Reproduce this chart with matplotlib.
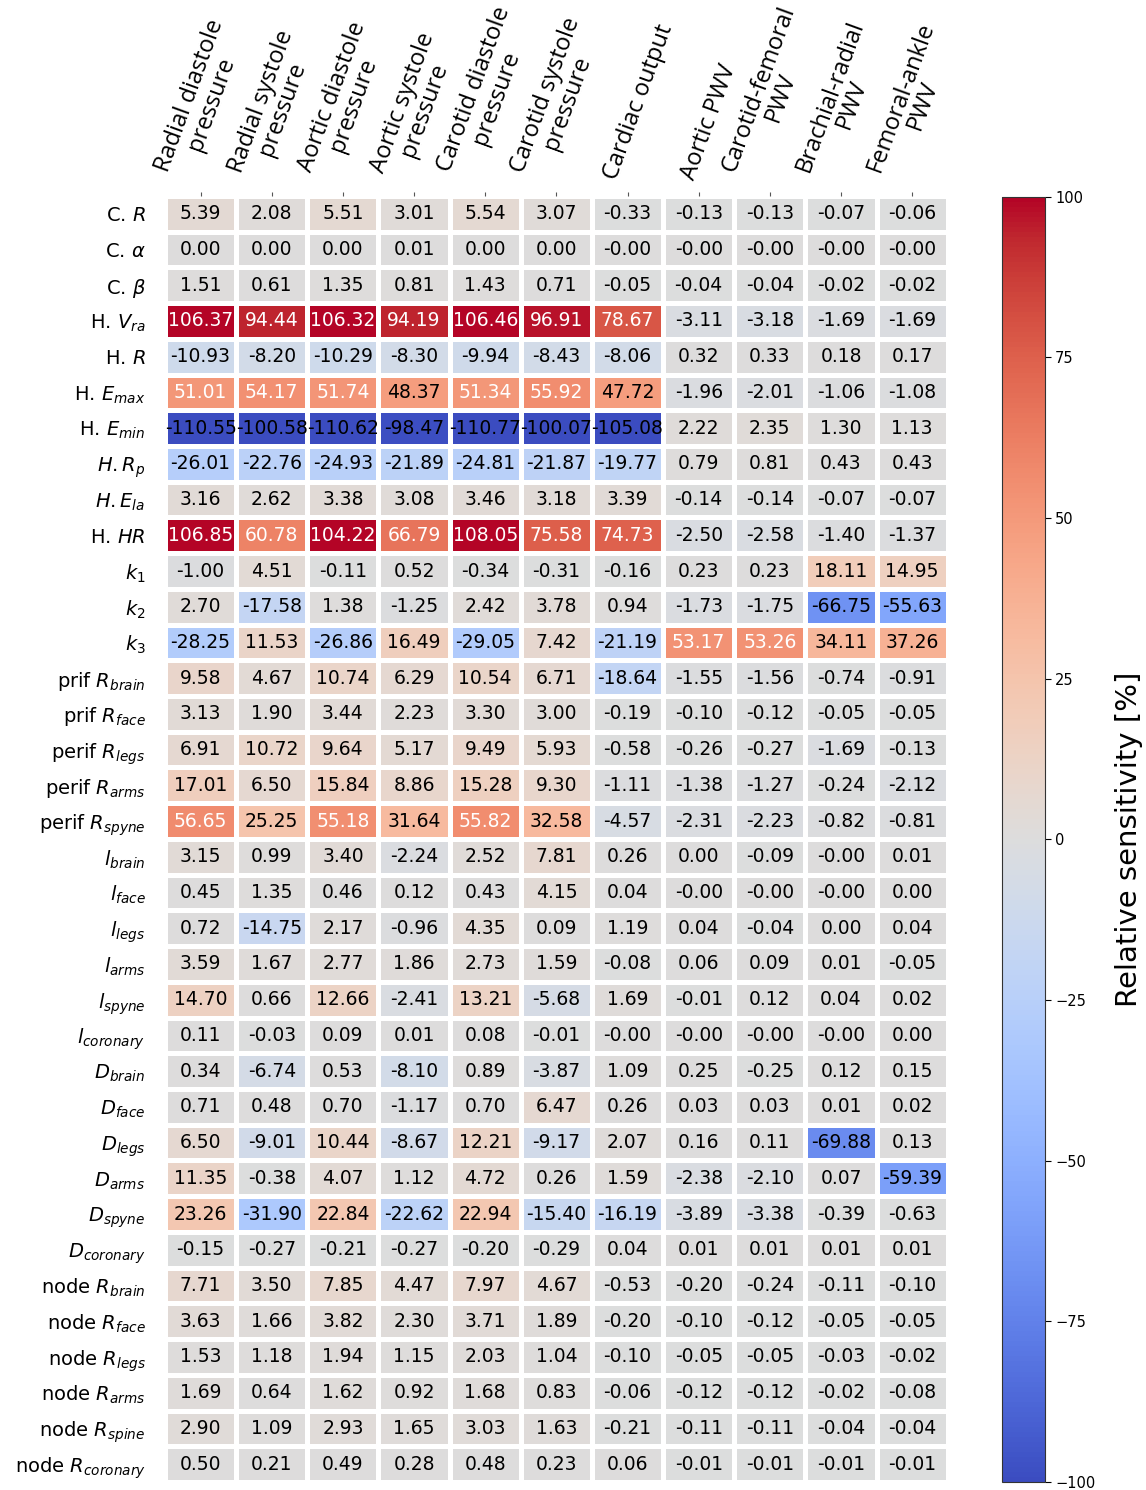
import numpy as np
import matplotlib
matplotlib.use("Agg")
import matplotlib.pyplot as plt

# Output quantities (columns)
outputs = [
    "Radial diastole\npressure", "Radial systole\npressure",
    "Aortic diastole\npressure", "Aortic systole\npressure",
    "Carotid diastole\npressure", "Carotid systole\npressure",
    "\nCardiac output", "\nAortic PWV", "Carotid-femoral\nPWV",
    "Brachial-radial\nPWV", "Femoral-ankle\nPWV",
]

# Model parameters (rows)
params = [
    r"C. $R$", r"C. $\alpha$", r"C. $\beta$", r"H. $V_{ra}$", r"H. $R$",
    r"H. $E_{max}$", r"H. $E_{min}$", r"$H. R_p$", r"$H. E_{la}$", r"H. $HR$",
    r"$k_1$", r"$k_2$", r"$k_3$",
    r"prif $R_{brain}$", r"prif $R_{face}$", r"perif $R_{legs}$",
    r"perif $R_{arms}$", r"perif $R_{spyne}$",
    r"$l_{brain}$", r"$l_{face}$", r"$l_{legs}$", r"$l_{arms}$",
    r"$l_{spyne}$", r"$l_{coronary}$",
    r"$D_{brain}$", r"$D_{face}$", r"$D_{legs}$", r"$D_{arms}$",
    r"$D_{spyne}$", r"$D_{coronary}$",
    r"node $R_{brain}$", r"node $R_{face}$", r"node $R_{legs}$",
    r"node $R_{arms}$", r"node $R_{spine}$", r"node $R_{coronary}$",
]

# Relative sensitivity [%], one list per parameter
c_R        = [5.39, 2.08, 5.51, 3.01, 5.54, 3.07, -0.33, -0.13, -0.13, -0.07, -0.06]
c_alpha    = [0.00, 0.00, 0.00, 0.01, 0.00, 0.00, -0.0, -0.0, -0.0, -0.0, -0.0]
c_beta     = [1.51, 0.61, 1.35, 0.81, 1.43, 0.71, -0.05, -0.04, -0.04, -0.02, -0.02]
h_Vra      = [106.37, 94.44, 106.32, 94.19, 106.46, 96.91, 78.67, -3.11, -3.18, -1.69, -1.69]
h_R        = [-10.93, -8.20, -10.29, -8.30, -9.94, -8.43, -8.06, 0.32, 0.33, 0.18, 0.17]
h_Emax     = [51.01, 54.17, 51.74, 48.37, 51.34, 55.92, 47.72, -1.96, -2.01, -1.06, -1.08]
h_Emin     = [-110.55, -100.58, -110.62, -98.47, -110.77, -100.07, -105.08, 2.22, 2.35, 1.30, 1.13]
h_Rp       = [-26.01, -22.76, -24.93, -21.89, -24.81, -21.87, -19.77, 0.79, 0.81, 0.43, 0.43]
h_Ela      = [3.16, 2.62, 3.38, 3.08, 3.46, 3.18, 3.39, -0.14, -0.14, -0.07, -0.07]
h_HR       = [106.85, 60.78, 104.22, 66.79, 108.05, 75.58, 74.73, -2.50, -2.58, -1.40, -1.37]
k1         = [-1.00, 4.51, -0.11, 0.52, -0.34, -0.31, -0.16, 0.23, 0.23, 18.11, 14.95]
k2         = [2.70, -17.58, 1.38, -1.25, 2.42, 3.78, 0.94, -1.73, -1.75, -66.75, -55.63]
k3         = [-28.25, 11.53, -26.86, 16.49, -29.05, 7.42, -21.19, 53.17, 53.26, 34.11, 37.26]
perif_brain = [9.58, 4.67, 10.74, 6.29, 10.54, 6.71, -18.64, -1.55, -1.56, -0.74, -0.91]
perif_face  = [3.13, 1.90, 3.44, 2.23, 3.30, 3.00, -0.19, -0.10, -0.12, -0.05, -0.05]
perif_legs  = [6.91, 10.72, 9.64, 5.17, 9.49, 5.93, -0.58, -0.26, -0.27, -1.69, -0.13]
perif_arms  = [17.01, 6.50, 15.84, 8.86, 15.28, 9.30, -1.11, -1.38, -1.27, -0.24, -2.12]
perif_spyne = [56.65, 25.25, 55.18, 31.64, 55.82, 32.58, -4.57, -2.31, -2.23, -0.82, -0.81]
l_brain    = [3.15, 0.99, 3.40, -2.24, 2.52, 7.81, 0.26, 0.00, -0.09, -0.0, 0.01]
l_face     = [0.45, 1.35, 0.46, 0.12, 0.43, 4.15, 0.04, -0.0, -0.0, -0.0, 0.00]
l_legs     = [0.72, -14.75, 2.17, -0.96, 4.35, 0.09, 1.19, 0.04, -0.04, 0.00, 0.04]
l_arms     = [3.59, 1.67, 2.77, 1.86, 2.73, 1.59, -0.08, 0.06, 0.09, 0.01, -0.05]
l_spyne    = [14.70, 0.66, 12.66, -2.41, 13.21, -5.68, 1.69, -0.01, 0.12, 0.04, 0.02]
l_coronary = [0.11, -0.03, 0.09, 0.01, 0.08, -0.01, -0.0, -0.0, -0.0, -0.0, 0.00]
d_brain    = [0.34, -6.74, 0.53, -8.10, 0.89, -3.87, 1.09, 0.25, -0.25, 0.12, 0.15]
d_face     = [0.71, 0.48, 0.70, -1.17, 0.70, 6.47, 0.26, 0.03, 0.03, 0.01, 0.02]
d_legs     = [6.50, -9.01, 10.44, -8.67, 12.21, -9.17, 2.07, 0.16, 0.11, -69.88, 0.13]
d_arms     = [11.35, -0.38, 4.07, 1.12, 4.72, 0.26, 1.59, -2.38, -2.10, 0.07, -59.39]
d_spyne    = [23.26, -31.90, 22.84, -22.62, 22.94, -15.40, -16.19, -3.89, -3.38, -0.39, -0.63]
d_coronary = [-0.15, -0.27, -0.21, -0.27, -0.20, -0.29, 0.04, 0.01, 0.01, 0.01, 0.01]
node_brain    = [7.71, 3.50, 7.85, 4.47, 7.97, 4.67, -0.53, -0.20, -0.24, -0.11, -0.10]
node_face     = [3.63, 1.66, 3.82, 2.30, 3.71, 1.89, -0.20, -0.10, -0.12, -0.05, -0.05]
node_legs     = [1.53, 1.18, 1.94, 1.15, 2.03, 1.04, -0.10, -0.05, -0.05, -0.03, -0.02]
node_arms     = [1.69, 0.64, 1.62, 0.92, 1.68, 0.83, -0.06, -0.12, -0.12, -0.02, -0.08]
node_spine    = [2.90, 1.09, 2.93, 1.65, 3.03, 1.63, -0.21, -0.11, -0.11, -0.04, -0.04]
node_coronary = [0.50, 0.21, 0.49, 0.28, 0.48, 0.23, 0.06, -0.01, -0.01, -0.01, -0.01]

values = np.array([
    c_R, c_alpha, c_beta, h_Vra, h_R, h_Emax, h_Emin, h_Rp, h_Ela, h_HR,
    k1, k2, k3,
    perif_brain, perif_face, perif_legs, perif_arms, perif_spyne,
    l_brain, l_face, l_legs, l_arms, l_spyne, l_coronary,
    d_brain, d_face, d_legs, d_arms, d_spyne, d_coronary,
    node_brain, node_face, node_legs, node_arms, node_spine, node_coronary,
], dtype=float)

n_rows, n_cols = values.shape

fig = plt.figure(figsize=(11.46, 14.90), dpi=100)
ax = fig.add_axes([0.144, 0.0054, 0.683, 0.8631])
cax = fig.add_axes([0.874, 0.0054, 0.0375, 0.8625])

mesh = ax.pcolormesh(values, cmap="coolwarm", vmin=-100, vmax=100,
                     edgecolors="white", linewidth=2.5)
ax.set_xlim(0, n_cols)
ax.set_ylim(n_rows, 0)

for i in range(n_rows):
    for j in range(n_cols):
        v = values[i, j]
        ax.text(j + 0.5, i + 0.5, f"{v:.2f}", ha="center", va="center",
                fontsize=13.5, color="white" if v > 50 else "black")

ax.xaxis.tick_top()
ax.set_xticks(np.arange(n_cols) + 0.5)
ax.set_xticklabels(outputs, rotation=70, ha="center", va="bottom",
                   fontsize=17, family="Open Sans", linespacing=0.95,
                   multialignment="center")
ax.tick_params(axis="x", length=3, width=0.8, pad=6, color="#555555")
ax.set_yticks(np.arange(n_rows) + 0.5)
ax.set_yticklabels(params, fontsize=14)
ax.tick_params(axis="y", length=0, pad=14)
for s in ax.spines.values():
    s.set_visible(False)

cb = fig.colorbar(mesh, cax=cax)
cb.set_ticks([100, 75, 50, 25, 0, -25, -50, -75, -100])
cb.ax.tick_params(labelsize=10.5, length=4)
cb.set_label("Relative sensitivity [%]", fontsize=21, labelpad=14)
cb.outline.set_edgecolor("#333333")

fig.savefig("out.png", dpi=100)
